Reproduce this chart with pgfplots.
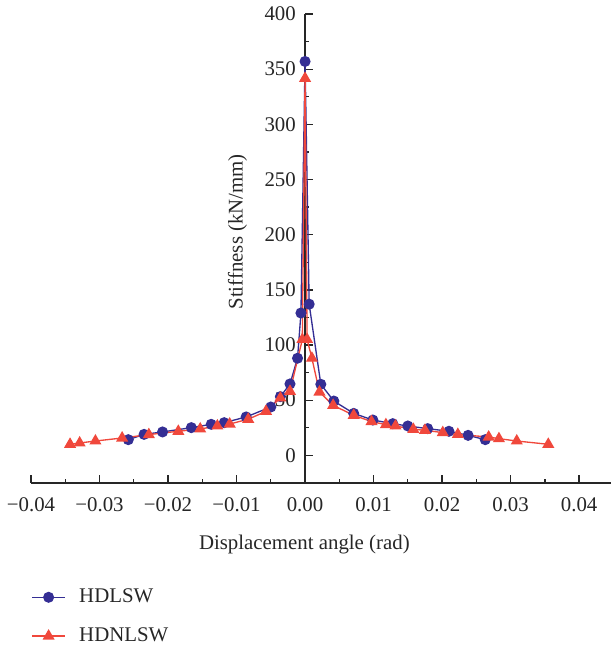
\documentclass[border=0pt]{standalone}
\usepackage{fontspec}
\setmainfont{Liberation Serif}
\usepackage{pgfplots}
\pgfplotsset{compat=1.18}
\usetikzlibrary{calc}
\definecolor{hdblue}{RGB}{52,46,148}
\definecolor{hdred}{RGB}{240,72,60}

\begin{document}
\begin{tikzpicture}
\begin{axis}[
    name=ax,
    scale only axis,
    width=348pt, height=281.2pt,
    xmin=-0.04, xmax=0.0447,
    ymin=-25, ymax=400,
    axis x line*=bottom,
    axis y line*=middle,
    axis line style={black!85, line width=0.9pt},
    scaled x ticks=false,
    xtick={-0.04,-0.03,-0.02,-0.01,0,0.01,0.02,0.03,0.04},
    xticklabels={−0.04,−0.03,−0.02,−0.01,0.00,0.01,0.02,0.03,0.04},
    ytick={0,50,100,150,200,250,300,350,400},
    yticklabels={0,50,100,150,200,250,300,350,400},
    minor x tick num=1, minor y tick num=1,
    tick align=inside,
    major tick length=4.5pt, minor tick length=2.5pt,
    tick style={black!85, line width=0.8pt},
    ticklabel style={font=\fontsize{12.5}{14}\selectfont, text=black!85},
    xticklabel style={yshift=-5pt},
    yticklabel style={xshift=-2pt},
    xlabel={Displacement angle (rad)},
    ylabel={Stiffness (kN/mm)},
    label style={font=\fontsize{12.5}{14}\selectfont, text=black!85},
    xlabel style={at={(axis description cs:0.471,-0.132)}, anchor=center},
    ylabel style={at={(axis description cs:0.3557,0.5356)}, anchor=center},
    clip=false,
    legend cell align=left,
    legend image code/.code={
        \draw[mark repeat=2, mark phase=2, #1] plot coordinates {(0cm,0cm) (0.35cm,0cm) (0.7cm,0cm)};
    },
    legend style={at={(axis description cs:0,0)}, anchor=north west, yshift=-59.5pt, xshift=-3pt,
        draw=none, fill=none, row sep=9.5pt, font=\fontsize{12.5}{14}\selectfont, text=black!85,
        /tikz/every odd column/.append style={column sep=6pt}},
]
    % HDLSW
    \addplot[hdblue, line width=0.8pt, mark=*, mark size=2.9pt] coordinates {
        (-0.0258,14.2) (-0.0235,19.0) (-0.0208,21.2) (-0.0166,25.1) (-0.0137,28.1)
        (-0.0118,29.6) (-0.0086,34.8) (-0.0050,43.8) (-0.0036,53.2) (-0.0022,64.7)
        (-0.0011,88.0) (-0.0006,129.0) (0.0000,357.0) (0.0006,137.0) (0.0023,64.4)
        (0.0042,49.2) (0.0071,38.0) (0.0099,32.0) (0.0128,28.7) (0.0150,26.6)
        (0.0179,24.2) (0.0210,21.8) (0.0238,18.1) (0.0263,14.2)
    };
    \addlegendentry{HDLSW}
    % HDNLSW
    \addplot[hdred, line width=0.8pt, mark=triangle*, mark size=3.4pt] coordinates {
        (-0.0343,10.0) (-0.0329,11.2) (-0.0306,13.0) (-0.0267,15.7) (-0.0228,18.8)
        (-0.0185,21.8) (-0.0153,23.9) (-0.0128,26.6) (-0.0110,28.4) (-0.0083,32.7)
        (-0.0057,39.9) (-0.0036,52.0) (-0.0022,58.0) (-0.0004,105.0) (0.0000,341.7)
        (0.0003,105.0) (0.0010,88.0) (0.0021,57.4) (0.0041,45.3) (0.0071,36.3)
        (0.0097,30.6) (0.0118,27.8) (0.0132,26.6) (0.0158,23.6) (0.0175,22.7)
        (0.0201,20.6) (0.0223,19.0) (0.0268,16.6) (0.0283,15.1) (0.0309,13.0)
        (0.0355,10.0)
    };
    \addlegendentry{HDNLSW}
\end{axis}
\pgfresetboundingbox
\path[use as bounding box] ($(ax.south west)+(-18.6pt,-99pt)$) rectangle ($(ax.north east)+(0pt,8.4pt)$);
\end{tikzpicture}
\end{document}
